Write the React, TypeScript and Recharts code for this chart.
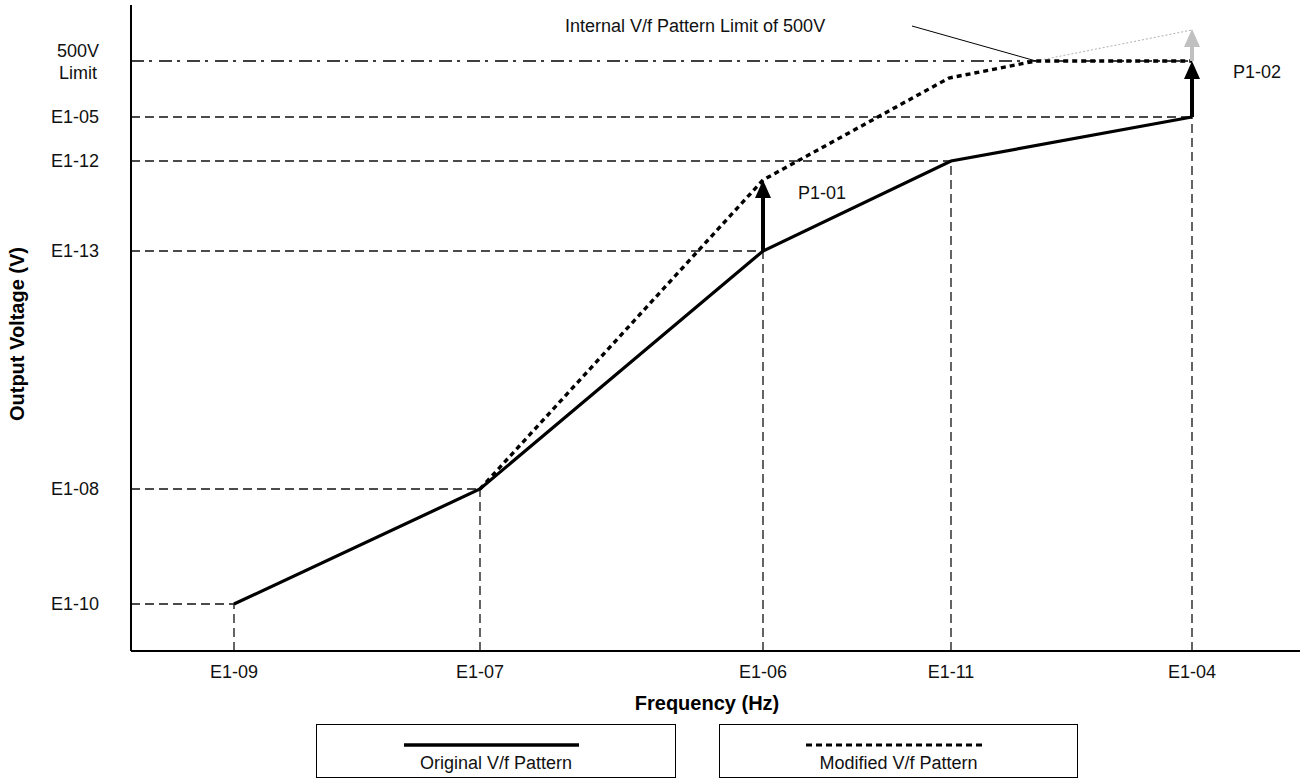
import { LineChart, Line, XAxis, YAxis, ReferenceLine, ReferenceDot, Label } from "recharts";

const FONT = '"Liberation Sans", Arial, sans-serif';

// breakpoints of the V/f pattern, in chart units
const freqTicks = [103, 349, 632, 820, 1061];
const freqLabels = ["E1-09", "E1-07", "E1-06", "E1-11", "E1-04"];
const voltTicks = [47, 162, 400, 490, 534, 590];
const voltLabels = ["E1-10", "E1-08", "E1-13", "E1-12", "E1-05", "500V Limit"];

const originalFreq = [103, 349, 632, 820, 1061];
const originalVolt = [47, 162, 400, 490, 534];
const modifiedFreq = [349, 632, 818, 905, 1061];
const modifiedVolt = [162, 471, 573, 590, 590];
const unclampedFreq = [905, 1061];
const unclampedVolt = [590, 621];

const LIMIT = 590;

const original = originalFreq.map((f, i) => ({ f, v: originalVolt[i] }));
const modified = modifiedFreq.map((f, i) => ({ f, v: modifiedVolt[i] }));
const unclamped = unclampedFreq.map((f, i) => ({ f, v: unclampedVolt[i] }));

// boost arrows: from -> to (voltage), at a given frequency
const arrows = [
  { f: 632, from: 400, to: 471, color: "#000" },
  { f: 1061, from: 534, to: 590, color: "#000" },
  { f: 1061, from: 590, to: 622, color: "#c0c0c0" },
];

const notes = [
  { f: 434, v: 625, text: "Internal V/f Pattern Limit of 500V" },
  { f: 667, v: 458, text: "P1-01" },
  { f: 1102, v: 579, text: "P1-02" },
];

const guide = { stroke: "#111", strokeWidth: 1.3, strokeDasharray: "9 5" };

function VoltTick({ x, y, payload }: any) {
  const label = voltLabels[voltTicks.indexOf(payload.value)];
  if (label === "500V Limit") {
    return (
      <text textAnchor="middle" fontSize={18} fontFamily={FONT} fill="#111">
        <tspan x={x - 21} y={y - 4.5}>500V</tspan>
        <tspan x={x - 21} y={y + 17.5}>Limit</tspan>
      </text>
    );
  }
  return (
    <text x={x} y={y} dy="0.35em" textAnchor="end" fontSize={18} fontFamily={FONT} fill="#111">
      {label}
    </text>
  );
}

function FreqTick({ x, y, payload }: any) {
  return (
    <text x={x} y={y} dy="0.71em" textAnchor="middle" fontSize={18} fontFamily={FONT} fill="#111">
      {freqLabels[freqTicks.indexOf(payload.value)]}
    </text>
  );
}

const arrowHead = (color: string) => (props: any) => {
  const { cx, cy } = props;
  return <polygon points={`${cx},${cy} ${cx - 8},${cy + 18} ${cx + 8},${cy + 18}`} fill={color} />;
};

const noteShape = (text: string) => (props: any) => (
  <text x={props.cx} y={props.cy} dy="0.35em" fontSize={18} fontFamily={FONT} fill="#111">
    {text}
  </text>
);

export default function App() {
  return (
    <div style={{ position: "absolute", left: 0, top: 0, width: 1307, height: 783, background: "#fff", fontFamily: FONT }}>
      <LineChart width={1307} height={783} margin={{ top: 5, right: 7, bottom: 102, left: 11 }}>
        <XAxis
          dataKey="f" type="number" domain={[0, 1169]} ticks={freqTicks} interval={0}
          axisLine={{ stroke: "#000", strokeWidth: 2 }} tickLine={false} tickSize={0} tickMargin={14}
          tick={<FreqTick />} height={30} allowDataOverflow
        >
          <Label
            content={() => (
              <text x={707} y={703} dy="0.35em" textAnchor="middle" fontSize={20} fontWeight="bold" fontFamily={FONT} fill="#000">
                Frequency (Hz)
              </text>
            )}
          />
        </XAxis>
        <YAxis
          type="number" domain={[0, 646]} ticks={voltTicks} interval={0} width={120}
          axisLine={{ stroke: "#000", strokeWidth: 2 }} tickLine={false} tickSize={0} tickMargin={32}
          tick={<VoltTick />} allowDataOverflow
        >
          <Label
            content={() => (
              <text x={17} y={334} dy="0.35em" textAnchor="middle" transform="rotate(-90, 17, 334)"
                fontSize={20} fontWeight="bold" fontFamily={FONT} fill="#000">
                Output Voltage (V)
              </text>
            )}
          />
        </YAxis>

        {original.map((p) => (
          <ReferenceLine key={`h${p.f}`} segment={[{ x: 0, y: p.v }, { x: p.f, y: p.v }]} {...guide} />
        ))}
        {original.map((p) => (
          <ReferenceLine key={`v${p.f}`} segment={[{ x: p.f, y: 0 }, { x: p.f, y: p.v }]} {...guide} />
        ))}
        <ReferenceLine
          segment={[{ x: 0, y: LIMIT }, { x: originalFreq[originalFreq.length - 1], y: LIMIT }]}
          stroke="#000" strokeWidth={1.5} strokeDasharray="13 5 3 7"
        />
        <ReferenceLine segment={[{ x: 781, y: 625 }, { x: 905, y: LIMIT }]} stroke="#000" strokeWidth={1} />

        <Line data={unclamped} dataKey="v" type="linear" stroke="#b0b0b0" strokeWidth={1} strokeDasharray="2 2" dot={false} isAnimationActive={false} />
        <Line data={original} dataKey="v" type="linear" stroke="#000" strokeWidth={3.2} dot={false} isAnimationActive={false} />
        <Line data={modified} dataKey="v" type="linear" stroke="#000" strokeWidth={3.4} strokeDasharray="5 4" dot={false} isAnimationActive={false} />

        {arrows.map((a, i) => (
          <ReferenceLine key={`a${i}`} segment={[{ x: a.f, y: a.from }, { x: a.f, y: a.to - 17 }]} stroke={a.color} strokeWidth={4} />
        ))}
        {arrows.map((a, i) => (
          <ReferenceDot key={`ah${i}`} x={a.f} y={a.to} r={0} shape={arrowHead(a.color)} />
        ))}
        {notes.map((n) => (
          <ReferenceDot key={n.text} x={n.f} y={n.v} r={0} shape={noteShape(n.text)} />
        ))}
      </LineChart>

      <div style={{ position: "absolute", left: 316, top: 724, width: 360, height: 54, boxSizing: "border-box", border: "1.5px solid #000" }}>
        <svg width={360} height={30} style={{ position: "absolute", left: 0, top: 0 }}>
          <line x1={87} x2={262} y1={20} y2={20} stroke="#000" strokeWidth={3.5} />
        </svg>
        <div style={{ position: "absolute", left: 0, right: 0, top: 28, textAlign: "center", fontSize: 18, color: "#111" }}>
          Original V/f Pattern
        </div>
      </div>
      <div style={{ position: "absolute", left: 719, top: 724, width: 359, height: 54, boxSizing: "border-box", border: "1.5px solid #000" }}>
        <svg width={359} height={30} style={{ position: "absolute", left: 0, top: 0 }}>
          <line x1={86} x2={263} y1={20} y2={20} stroke="#000" strokeWidth={3} strokeDasharray="6 4" />
        </svg>
        <div style={{ position: "absolute", left: 0, right: 0, top: 28, textAlign: "center", fontSize: 18, color: "#111" }}>
          Modified V/f Pattern
        </div>
      </div>
    </div>
  );
}
